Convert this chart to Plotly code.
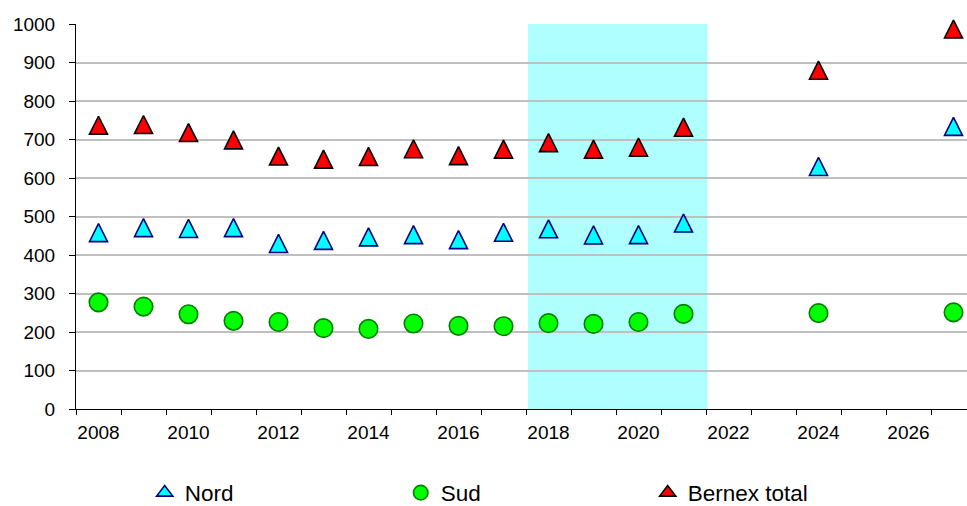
import plotly.graph_objects as go

# ---- data ----
years = [2008, 2009, 2010, 2011, 2012, 2013, 2014, 2015, 2016, 2017,
         2018, 2019, 2020, 2021, 2024, 2027]
nord = [458, 471, 469, 471, 430, 438, 447, 453, 440, 459,
        468, 452, 453, 483, 630, 734]
sud = [277, 266, 246, 229, 226, 210, 208, 222, 216, 215,
       223, 221, 226, 247, 249, 251]
bernex_total = [737, 739, 718, 699, 657, 649, 656, 676, 658, 675,
                692, 675, 680, 732, 880, 987]
series_names = ["Nord", "Sud", "Bernex total"]
x_tick_vals = [2008, 2010, 2012, 2014, 2016, 2018, 2020, 2022, 2024, 2026]
x_tick_text = ["2008", "2010", "2012", "2014", "2016", "2018", "2020", "2022", "2024", "2026"]
y_tick_vals = [0, 100, 200, 300, 400, 500, 600, 700, 800, 900, 1000]
shade_start, shade_end = 2017.545, 2021.535

FONT = "Liberation Sans, Arial, sans-serif"
W, H = 967, 506
ML, MR, MT, MB = 76, 0, 24, 97
cat_px = 45.0
plot_w = W - ML - MR
plot_h = H - MT - MB
x0 = 2007.5
x1 = x0 + plot_w / cat_px

TRI = 18
LEG = 14
TICK_FONT = 19

fig = go.Figure()

def tri_marker(fill, line, size):
    return dict(symbol="arrow-down", angle=180, standoff=size / 2, size=size,
                color=fill, line=dict(color=line, width=1.6))

def leg_tri(fill, line, size):
    return dict(symbol="triangle-up", size=size, color=fill, line=dict(color=line, width=1.6))

# data traces
fig.add_trace(go.Scatter(x=years, y=nord, mode="markers", showlegend=False,
                         marker=tri_marker("#00FFFF", "#000080", TRI), cliponaxis=False))
fig.add_trace(go.Scatter(x=years, y=sud, mode="markers", showlegend=False,
                         marker=dict(symbol="circle", size=18.5, color="#00FF00",
                                     line=dict(color="#008000", width=1.6)), cliponaxis=False))
fig.add_trace(go.Scatter(x=years, y=bernex_total, mode="markers", showlegend=False,
                         marker=tri_marker("#FF0000", "#000000", TRI), cliponaxis=False))

# legend-only traces
fig.add_trace(go.Scatter(x=[None], y=[None], mode="markers", name=series_names[0],
                         legendwidth=211, marker=leg_tri("#00FFFF", "#000080", LEG)))
fig.add_trace(go.Scatter(x=[None], y=[None], mode="markers", name=series_names[1],
                         legendwidth=202, marker=dict(symbol="circle", size=14.5, color="#00FF00",
                                                      line=dict(color="#008000", width=1.6))))
fig.add_trace(go.Scatter(x=[None], y=[None], mode="markers", name=series_names[2],
                         legendwidth=200, marker=leg_tri("#FF0000", "#000000", LEG)))

fig.add_shape(type="rect", xref="x", yref="y", x0=shade_start, x1=shade_end, y0=0, y1=1000,
              fillcolor="#AFFFFF", line=dict(width=0), layer="below")

fig.update_layout(
    width=W, height=H,
    margin=dict(l=ML, r=MR, t=MT, b=MB, pad=0, autoexpand=False),
    paper_bgcolor="white", plot_bgcolor="white",
    font=dict(family=FONT, color="black", size=TICK_FONT),
    showlegend=True,
    legend=dict(orientation="h", x=(144.7 - ML) / plot_w, xanchor="left",
                y=(H - MB - 493) / plot_h, yanchor="middle", font=dict(size=22.5, family=FONT),
                entrywidthmode="pixels", traceorder="normal",
                bgcolor="rgba(0,0,0,0)"),
    xaxis=dict(range=[x0, x1], tickmode="array", tickvals=x_tick_vals, ticktext=x_tick_text,
               ticks="", showgrid=False, zeroline=False, ticklabelstandoff=6,
               showline=True, linecolor="black", linewidth=1,
               tickfont=dict(size=TICK_FONT, family=FONT),
               minor=dict(tick0=2007.5, dtick=1, ticks="outside", ticklen=5,
                          tickcolor="black", tickwidth=1, showgrid=False)),
    yaxis=dict(range=[0, 1000], tickmode="array", tickvals=y_tick_vals,
               ticks="outside", ticklen=6, tickcolor="black", tickwidth=1,
               ticklabelstandoff=10,
               showgrid=True, gridcolor="#C0C0C0", gridwidth=2, zeroline=False,
               showline=True, linecolor="black", linewidth=1,
               tickfont=dict(size=TICK_FONT, family=FONT)),
)

fig.write_html("out.html")
